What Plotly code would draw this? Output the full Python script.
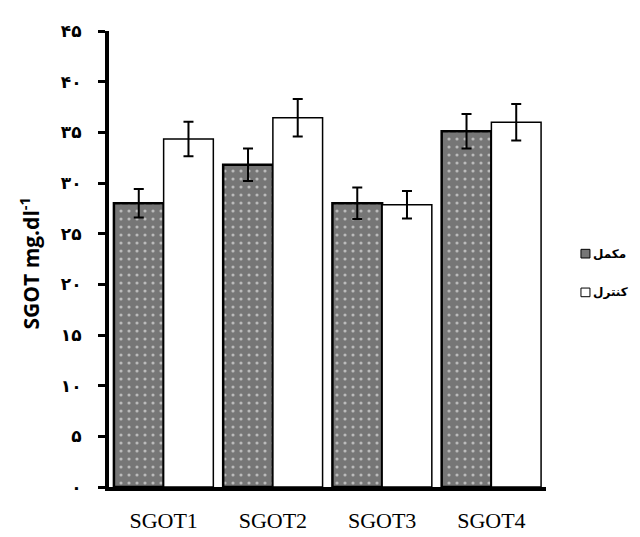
import plotly.graph_objects as go

# data
categories = ["SGOT1", "SGOT2", "SGOT3", "SGOT4"]
supplement = [28.0, 31.8, 28.0, 35.1]       # مکمل
supplement_err = [1.4, 1.6, 1.55, 1.7]
control = [34.35, 36.45, 27.85, 36.0]       # کنترل
control_err = [1.7, 1.85, 1.35, 1.8]
tick_vals = [0, 5, 10, 15, 20, 25, 30, 35, 40, 45]
tick_text = ["۰", "۵", "۱۰", "۱۵", "۲۰", "۲۵", "۳۰", "۳۵", "۴۰", "۴۵"]

fig = go.Figure()

fig.add_trace(go.Bar(
    x=categories, y=supplement, name="مکمل",
    marker=dict(color="#767676", line=dict(color="black", width=2.5),
                pattern=dict(shape=".", fgcolor="white", bgcolor="#767676",
                             size=8, solidity=0.12, fillmode="overlay")),
    error_y=dict(type="data", array=supplement_err, color="black",
                 thickness=2, width=5),
    showlegend=False,
))

fig.add_trace(go.Bar(
    x=categories, y=control, name="کنترل",
    marker=dict(color="white", line=dict(color="black", width=1.5)),
    error_y=dict(type="data", array=control_err, color="black",
                 thickness=2, width=5),
    showlegend=False,
))

# legend drawn by hand: small square then the Persian label
legend_items = [("مکمل", "#767676", 0.5117), ("کنترل", "white", 0.4268)]
for label, colour, yc in legend_items:
    fig.add_shape(type="rect", xref="paper", yref="paper",
                  x0=1.080, x1=1.1006, y0=yc - 0.0095, y1=yc + 0.0095,
                  fillcolor=colour, line=dict(color="black", width=1))
    fig.add_annotation(text="<b>" + label + "</b>", xref="paper", yref="paper",
                       x=1.104, y=yc, xanchor="left", yanchor="middle",
                       showarrow=False,
                       font=dict(family="DejaVu Sans", size=12, color="black"))

# y-axis title
fig.add_annotation(text="<b>SGOT mg.dl<sup>-1</sup></b>", xref="paper", yref="paper",
                   x=-0.181, y=0.49, textangle=-90, showarrow=False,
                   xanchor="center", yanchor="middle",
                   font=dict(family="Open Sans", size=21, color="black"))

fig.update_layout(
    width=640, height=537,
    margin=dict(l=101, r=102, t=23, b=43),
    plot_bgcolor="white", paper_bgcolor="white",
    barmode="group", bargap=0.09, bargroupgap=0,
    xaxis=dict(showline=True, linecolor="black", linewidth=4, ticks="",
               tickfont=dict(family="Liberation Serif", size=22, color="black"),
               ticklabelstandoff=11),
    yaxis=dict(range=[0, 45], tickvals=tick_vals, ticktext=tick_text,
               showline=True, linecolor="black", linewidth=4,
               ticks="outside", ticklen=7, tickwidth=3, tickcolor="black",
               showgrid=False, zeroline=False, ticklabelstandoff=13,
               tickfont=dict(family="DejaVu Sans", size=17, color="black",
                             weight="bold")),
)

fig.write_html("out.html")
